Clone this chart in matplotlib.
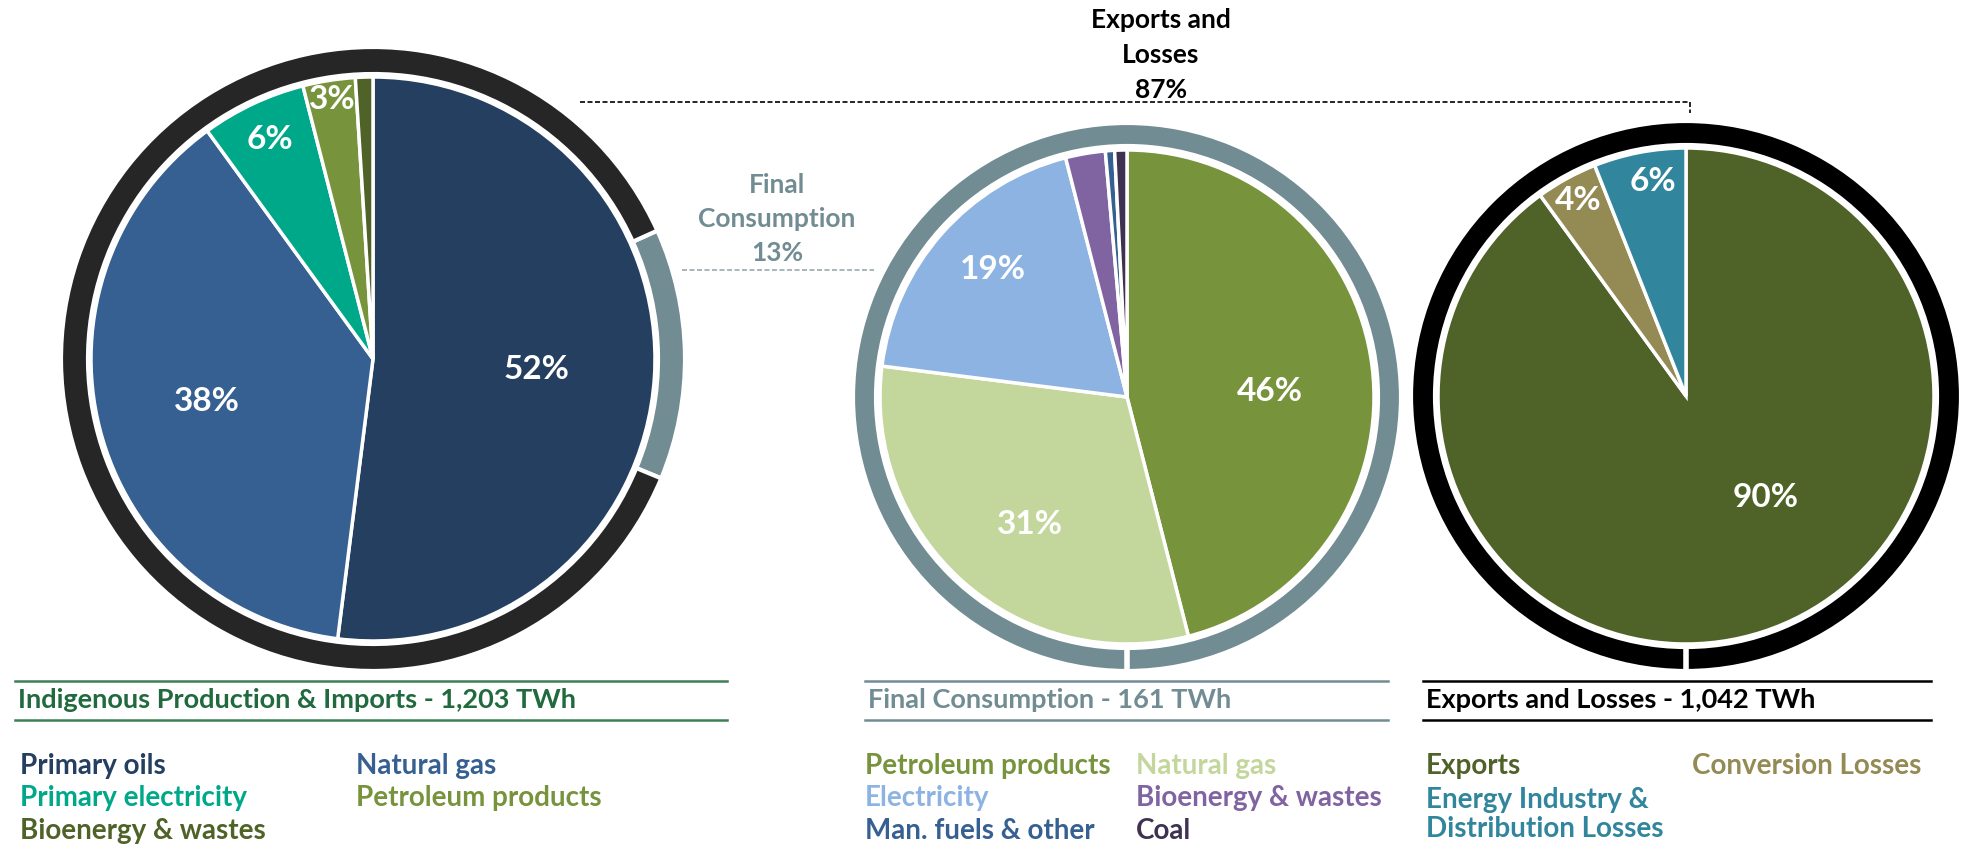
import numpy as np
import matplotlib
matplotlib.use("Agg")
import matplotlib.pyplot as plt

plt.rcParams['font.family'] = ['Lato', 'DejaVu Sans']

W, H = 1966, 851

# supply pie (left)
supply_labels = ['Primary oils', 'Natural gas', 'Primary electricity',
                 'Petroleum products', 'Bioenergy & wastes']
supply_vals = [52, 38, 6, 3, 1]
supply_cols = ['#253F60', '#366092', '#00A88A', '#77933C', '#4F6228']

# split of supply into use
split_labels = ['Final Consumption', 'Exports and Losses']
split_vals = [13, 87]
split_cols = ['#718C92', '#262626']

# final consumption (middle)
final_labels = ['Petroleum products', 'Natural gas', 'Electricity',
                'Bioenergy & wastes', 'Man. fuels & other', 'Coal']
final_vals = [46, 31, 19, 2.6, 0.6, 0.8]
final_cols = ['#77933C', '#C3D69B', '#8DB3E2', '#8064A2', '#366092', '#3F3151']

# exports and losses (right)
exp_labels = ['Exports', 'Conversion Losses', 'Energy Industry &\nDistribution Losses']
exp_vals = [90, 4, 6]
exp_cols = ['#4F6228', '#948A54', '#31859C']

titles = ['Indigenous Production & Imports - 1,203 TWh',
          'Final Consumption - 161 TWh',
          'Exports and Losses - 1,042 TWh']

fig = plt.figure(figsize=(W / 100, H / 100), dpi=100)
ax = fig.add_axes([0, 0, 1, 1])


def Y(y):
    return H - y


def draw_pie(vals, cols, cx, cy, r, dists, offs):
    wedges, _ = ax.pie(vals, colors=cols, startangle=90, counterclock=False,
                       radius=r, center=(cx, Y(cy)),
                       wedgeprops=dict(edgecolor='white', linewidth=2.5))
    for w, v, d, o in zip(wedges, vals, dists, offs):
        if d is None:
            continue
        a = np.radians((w.theta1 + w.theta2) / 2 + o)
        ax.text(cx + d * r * np.cos(a), Y(cy) + d * r * np.sin(a), f'{v:.0f}%',
                color='white', fontsize=24, fontweight='bold',
                ha='center', va='center')


def draw_ring(vals, cols, cx, cy, r, width, start, cut=False):
    ax.pie(vals, colors=cols, startangle=start, counterclock=False,
           radius=r, center=(cx, Y(cy)),
           wedgeprops=dict(width=width, edgecolor='white', linewidth=3))
    if cut:
        ax.plot([cx, cx], [Y(cy) - r + width - 2, Y(cy) - r - 2],
                color='white', lw=4, solid_capstyle='butt')


# left
draw_ring(split_vals, split_cols, 373, 359, 312, 27, 24.3)
draw_pie(supply_vals, supply_cols, 373, 359, 282,
         [0.58, 0.61, 0.86, 0.93, None], [0, 0, 0, 0, 0])

# middle
draw_ring([100], [split_cols[0]], 1127, 397, 274, 23, -90, cut=True)
draw_pie(final_vals, final_cols, 1127, 397, 247,
         [0.58, 0.65, 0.75, None, None, None], [-5, 4, -2, 0, 0, 0])

# right
draw_ring([100], ['#000000'], 1686, 396, 275, 24, -90, cut=True)
draw_pie(exp_vals, exp_cols, 1686, 396, 248,
         [0.52, 0.9, 0.875], [20, 0, -2])

# connector annotations
ax.plot([580, 1690], [Y(102), Y(102)], color='black', lw=1.2, ls=(0, (3, 1.5)))
ax.plot([1690, 1690], [Y(102), Y(113)], color='black', lw=1.2, ls=(0, (3, 1.5)))
ax.text(1161, Y(55), f'Exports and\nLosses\n{split_vals[1]}%', ha='center', va='center',
        fontsize=19, fontweight='bold', color='black', linespacing=1.55)

ax.plot([682, 874], [Y(270), Y(270)], color='#9AAAAE', lw=1.2, ls=(0, (3, 1.5)))
ax.text(777, Y(219), f'Final\nConsumption\n{split_vals[0]}%', ha='center', va='center',
        fontsize=19, fontweight='bold', color='#718C92', linespacing=1.5)

# titles with rules
title_spec = [(15, 727, 18, '#216A3E', '#3C7E55'),
              (865, 1388, 868, '#718C92', '#718C92'),
              (1423, 1931, 1426, '#000000', '#000000')]
for t, (x0, x1, tx, tc, lc) in zip(titles, title_spec):
    ax.plot([x0, x1], [Y(681), Y(681)], color=lc, lw=1.8)
    ax.plot([x0, x1], [Y(720), Y(720)], color=lc, lw=1.8)
    ax.text(tx, Y(700), t, ha='left', va='center', fontsize=19.5,
            fontweight='bold', color=tc)

# legends
rows = [766, 798, 831]


def legend(labels, cols, places):
    for lab, c, (x, row) in zip(labels, cols, places):
        ax.text(x, Y(rows[row]), lab, ha='left', va='center', fontsize=20,
                fontweight='bold', color=c)


legend(supply_labels, supply_cols, [(20, 0), (356, 0), (20, 1), (356, 1), (20, 2)])
legend(final_labels, final_cols, [(865, 0), (1136, 0), (865, 1), (1136, 1), (865, 2), (1136, 2)])
legend(exp_labels[:2], exp_cols[:2], [(1426, 0), (1692, 0)])
ax.text(1426, Y((rows[1] + rows[2]) / 2), exp_labels[2], ha='left', va='center',
        fontsize=20, fontweight='bold', color=exp_cols[2], linespacing=1.15)

ax.set_xlim(0, W)
ax.set_ylim(0, H)
ax.set_aspect('auto')
ax.axis('off')

fig.savefig('out.png', dpi=100, facecolor='white')
